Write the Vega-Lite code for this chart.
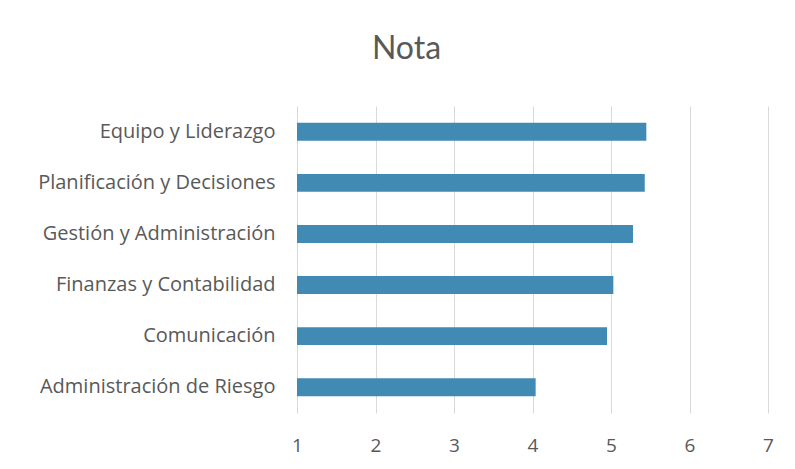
{
  "$schema": "https://vega.github.io/schema/vega-lite/v6.json",
  "width": 471,
  "height": 307,
  "autosize": {"type": "none"},
  "padding": {"left": 297, "top": 106, "right": 27, "bottom": 56},
  "background": "white",
  "title": {
    "text": "Nota",
    "fontSize": 32,
    "font": "Lato",
    "fontWeight": "normal",
    "color": "#595959",
    "anchor": "middle",
    "dx": -126,
    "offset": 40
  },
  "data": {
    "values": [
      {"categoria": "Equipo y Liderazgo", "nota": 5.45},
      {"categoria": "Planificación y Decisiones", "nota": 5.43},
      {"categoria": "Gestión y Administración", "nota": 5.28},
      {"categoria": "Finanzas y Contabilidad", "nota": 5.03},
      {"categoria": "Comunicación", "nota": 4.95},
      {"categoria": "Administración de Riesgo", "nota": 4.04}
    ]
  },
  "mark": {"type": "bar", "color": "#418AB3"},
  "encoding": {
    "y": {
      "field": "categoria",
      "type": "nominal",
      "sort": null,
      "scale": {"paddingInner": 0.65, "paddingOuter": 0.33},
      "axis": {
        "title": null,
        "ticks": false,
        "domain": false,
        "labelFont": "Open Sans",
        "labelFontSize": 20,
        "labelColor": "#595959",
        "labelPadding": 22,
        "labelLimit": 300
      }
    },
    "x": {
      "field": "nota",
      "type": "quantitative",
      "scale": {"domain": [1, 7], "nice": false, "zero": false},
      "axis": {
        "title": null,
        "values": [1, 2, 3, 4, 5, 6, 7],
        "ticks": false,
        "domain": false,
        "grid": true,
        "gridColor": "#d9d9d9",
        "gridWidth": 1,
        "labelFlush": false,
        "labelFont": "Open Sans",
        "labelFontSize": 19,
        "labelColor": "#595959",
        "labelPadding": 23
      }
    },
    "x2": {"datum": 1}
  },
  "config": {"view": {"stroke": null}}
}
